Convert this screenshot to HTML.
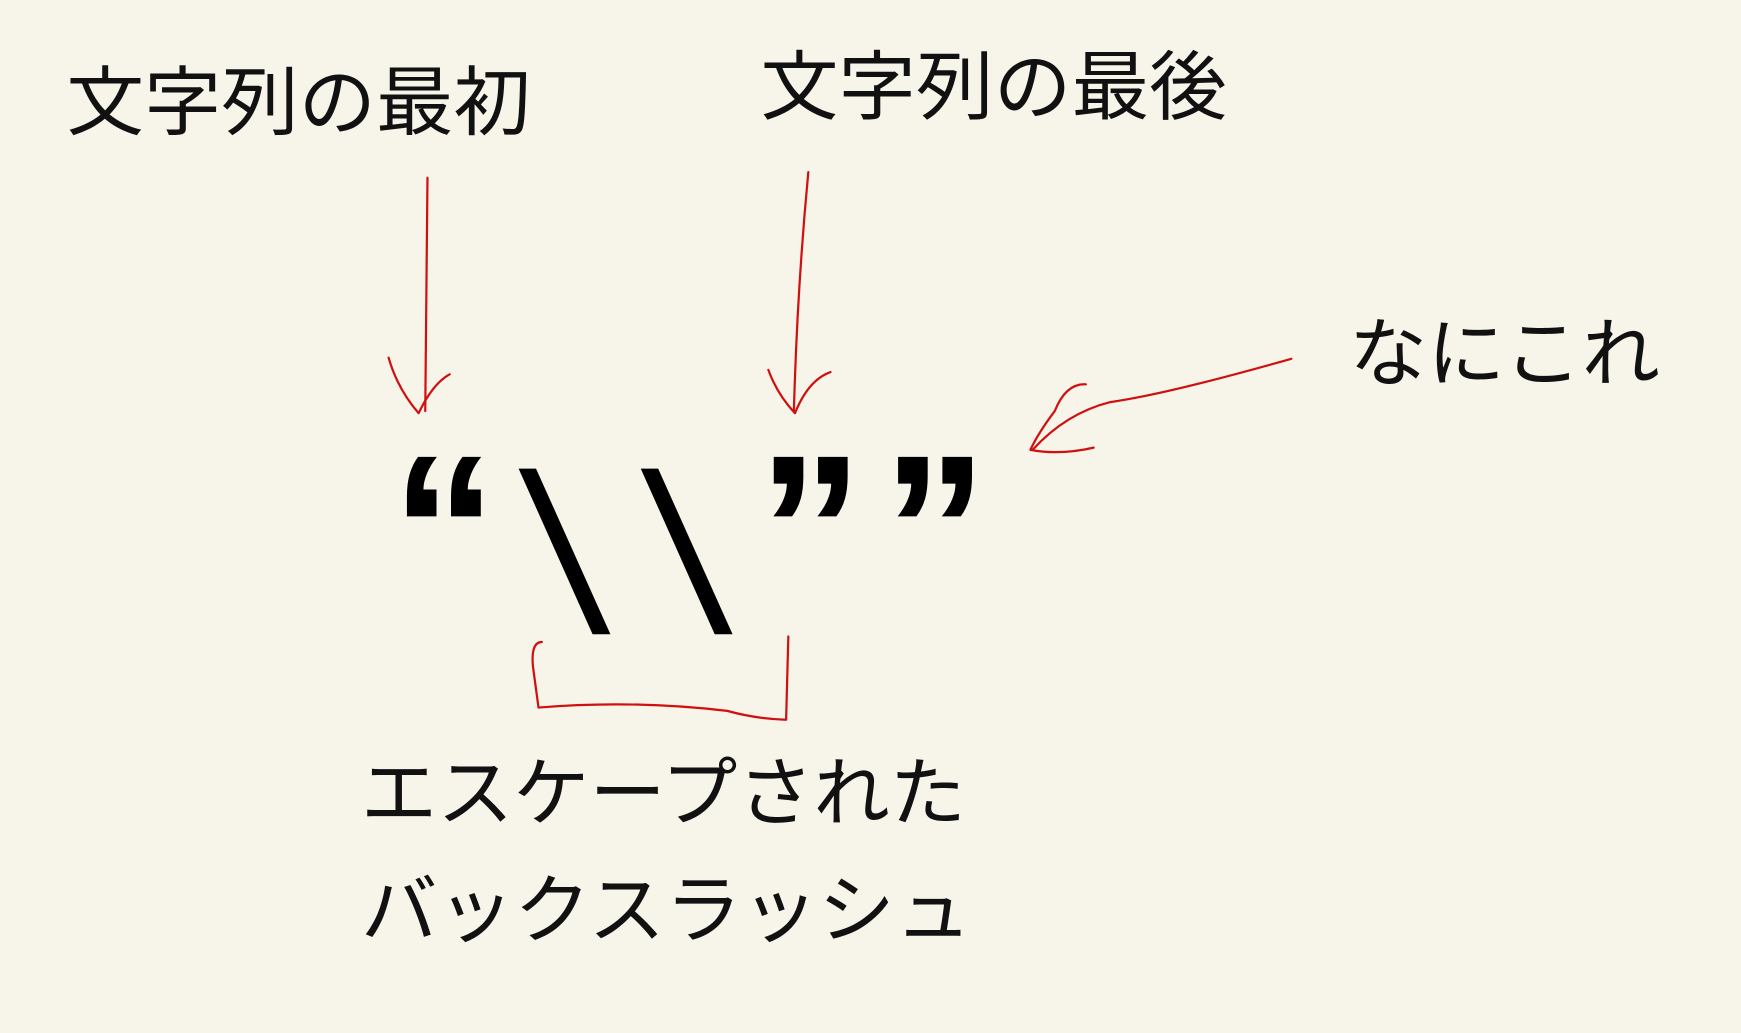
<!DOCTYPE html>
<html><head><meta charset="utf-8"><style>html,body{margin:0;padding:0;background:#f7f5e9;}svg{display:block}</style></head>
<body>
<svg width="1741" height="1033" viewBox="0 0 1568 930" preserveAspectRatio="none" xmlns="http://www.w3.org/2000/svg">
<rect width="1568" height="930" fill="#f7f5e9"/>
<g font-family="'Liberation Sans','Noto Sans CJK JP',sans-serif" fill="#111" font-size="68">
<text x="60" y="116" textLength="418" lengthAdjust="spacingAndGlyphs">文字列の最初</text>
<text x="685" y="102" textLength="420" lengthAdjust="spacingAndGlyphs">文字列の最後</text>
<text x="1215" y="342" textLength="280" lengthAdjust="spacingAndGlyphs">なにこれ</text>
<text x="325" y="738" textLength="545" lengthAdjust="spacingAndGlyphs">エスケープされた</text>
<text x="325" y="843" textLength="550" lengthAdjust="spacingAndGlyphs">バックスラッシュ</text>
</g>
<g font-family="'Liberation Sans',sans-serif" fill="#000" text-anchor="middle">
<text x="400" y="542" font-size="190" font-weight="bold">“</text>
<text x="730" y="542" font-size="190" font-weight="bold">”</text>
<text x="842" y="542" font-size="190" font-weight="bold">”</text>
<g transform="translate(508,494) skewX(10) translate(-508,-494)">
<text x="508" y="569" font-size="203">\</text>
<text x="618" y="569" font-size="203">\</text>
</g>
</g>
<g fill="none" stroke="#d01010" stroke-width="2" stroke-linecap="round" stroke-linejoin="round">
<path d="M385,160 Q384,260 383,370"/>
<path d="M350,322 Q358,350 377,372 Q390,345 405,337"/>
<path d="M728,155 Q718,260 715,370"/>
<path d="M692,333 Q700,355 716,372 Q728,342 748,335"/>
<path d="M1163,323 Q1050,355 1000,362 Q960,372 930,405"/>
<path d="M978,346 Q960,345 950,370 Q935,390 928,405 Q955,410 985,403"/>
<path d="M488,578 Q478,578 480,600 L485,637 Q570,630 655,640 Q680,647 708,648 L710,573"/>
</g>
</svg>
</body></html>
